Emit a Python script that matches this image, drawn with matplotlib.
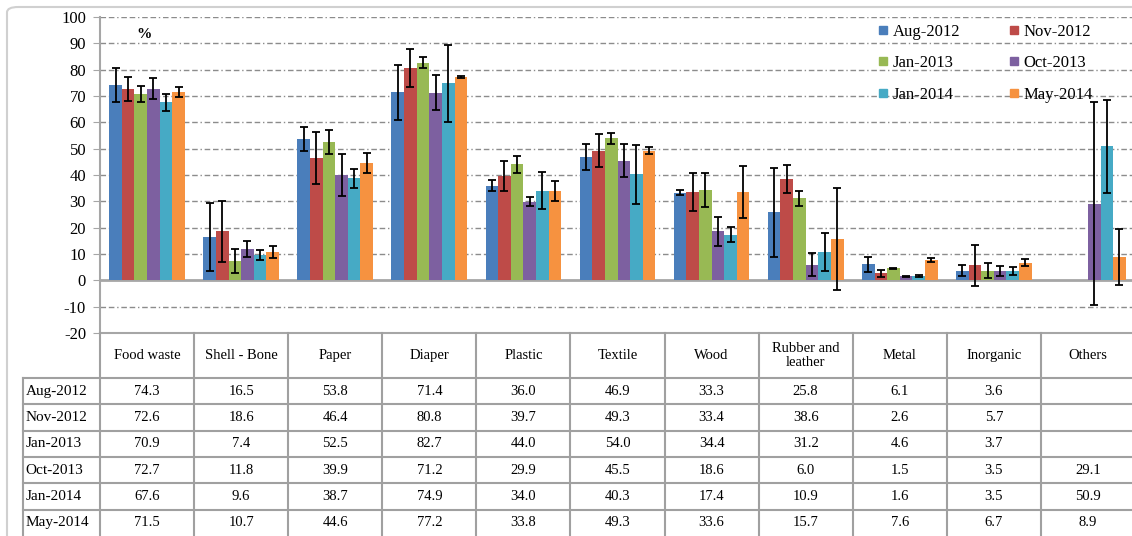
import numpy as np
import matplotlib
matplotlib.use("Agg")
import matplotlib.pyplot as plt
from matplotlib.lines import Line2D
from matplotlib.patches import FancyBboxPatch

plt.rcParams['font.family'] = ['Liberation Serif', 'DejaVu Serif']
plt.rcParams['axes.unicode_minus'] = False

categories = ["Food waste", "Shell - Bone", "Paper", "Diaper", "Plastic", "Textile",
              "Wood", "Rubber and\nleather", "Metal", "Inorganic", "Others"]
series_names = ["Aug-2012", "Nov-2012", "Jan-2013", "Oct-2013", "Jan-2014", "May-2014"]
nan = np.nan

aug_2012 = [74.3, 16.5, 53.8, 71.4, 36.0, 46.9, 33.3, 25.8, 6.1, 3.6, nan]
nov_2012 = [72.6, 18.6, 46.4, 80.8, 39.7, 49.3, 33.4, 38.6, 2.6, 5.7, nan]
jan_2013 = [70.9, 7.4, 52.5, 82.7, 44.0, 54.0, 34.4, 31.2, 4.6, 3.7, nan]
oct_2013 = [72.7, 11.8, 39.9, 71.2, 29.9, 45.5, 18.6, 6.0, 1.5, 3.5, 29.1]
jan_2014 = [67.6, 9.6, 38.7, 74.9, 34.0, 40.3, 17.4, 10.9, 1.6, 3.5, 50.9]
may_2014 = [71.5, 10.7, 44.6, 77.2, 33.8, 49.3, 33.6, 15.7, 7.6, 6.7, 8.9]

# standard deviations (error bar half-lengths)
aug_2012_sd = [6.5, 13.0, 4.5, 10.5, 2.0, 5.0, 1.0, 16.8, 2.8, 2.1, nan]
nov_2012_sd = [4.6, 11.7, 10.0, 7.2, 5.7, 6.3, 7.2, 5.3, 1.4, 7.7, nan]
jan_2013_sd = [3.0, 4.5, 4.5, 2.0, 3.2, 2.1, 6.4, 2.9, 0.2, 3.0, nan]
oct_2013_sd = [4.0, 3.0, 8.0, 6.7, 1.8, 6.1, 5.5, 4.2, 0.3, 1.9, 38.6]
jan_2014_sd = [3.3, 2.0, 3.7, 14.6, 7.1, 11.2, 2.9, 7.2, 0.3, 1.6, 17.6]
may_2014_sd = [1.9, 2.2, 3.8, 0.5, 3.8, 1.5, 10.0, 19.3, 0.7, 1.3, 10.6]

series = [aug_2012, nov_2012, jan_2013, oct_2013, jan_2014, may_2014]
errors = [aug_2012_sd, nov_2012_sd, jan_2013_sd, oct_2013_sd, jan_2014_sd, may_2014_sd]
colors = ["#4A7EBB", "#BE4B48", "#98B954", "#7D60A0", "#46AAC5", "#F69240"]

W, H = 1132, 536
fig = plt.figure(figsize=(W / 100, H / 100), dpi=100)

# outer chart frame
frame = FancyBboxPatch((7 / W, -0.05), 1.2, (H - 7) / H + 0.05,
                       boxstyle="round,pad=0,rounding_size=0.01",
                       transform=fig.transFigure, facecolor="none",
                       edgecolor="#D0D0D0", lw=1.5)
fig.patches.append(frame)

ax_left, ax_w = 100 / W, 1035 / W
ax = fig.add_axes([ax_left, 1 - 333 / H, ax_w, (333 - 17) / H])
ax.set_xlim(-0.5, len(categories) - 0.5)
ax.set_ylim(-20, 100)

n = len(series)
bw = 0.134
x = np.arange(len(categories))
for j, (vals, errs, c) in enumerate(zip(series, errors, colors)):
    pos = x + (j - (n - 1) / 2) * bw
    ax.bar(pos, vals, width=bw, color=c, zorder=3, linewidth=0)
    ax.errorbar(pos, vals, yerr=errs, fmt='none', ecolor='black',
                elinewidth=1.3, capsize=3, capthick=1.3, zorder=4)

ax.set_yticks(np.arange(-20, 101, 10))
ax.set_xticks([])
for t in np.arange(-10, 101, 10):
    if t == 0:
        continue
    ax.axhline(t, color="#8C8C8C", lw=1.0, dashes=[4, 2, 4, 2, 1, 2], zorder=1)
ax.axhline(0, color="#A6A6A6", lw=2.0, zorder=2)

for s in ["top", "right"]:
    ax.spines[s].set_visible(False)
for s in ["left", "bottom"]:
    ax.spines[s].set_color("#A6A6A6")
    ax.spines[s].set_linewidth(1.5)
ax.tick_params(axis='y', direction='out', length=5, color="#A6A6A6",
               labelsize=12, pad=5)
ax.tick_params(axis='x', length=0)
ax.set_facecolor("none")

ax.text(0.035, 0.965, "%", transform=ax.transAxes, fontsize=11,
        fontweight='bold', va='top', ha='left')

handles = [Line2D([], [], marker='s', linestyle='none', markersize=6,
                  color=c, label=name) for name, c in zip(series_names, colors)]
order = [0, 2, 4, 1, 3, 5]
leg = ax.legend([handles[i] for i in order], [series_names[i] for i in order],
                ncol=2, loc='upper left', bbox_to_anchor=(768 / 1035, 1.01),
                frameon=False, fontsize=12, handlelength=0.6, handletextpad=0.3,
                columnspacing=2.9, labelspacing=0.92, borderaxespad=0.2)
leg.set_zorder(5)

# data table below the chart
tax = fig.add_axes([ax_left, 0, ax_w, 203 / H])
tax.set_xlim(-0.5, len(categories) - 0.5)
tax.set_ylim(203, 0)
tax.axis('off')

header_h = 45
row_h = (203 - header_h) / len(series_names)
label_left = -0.5 - 77 / 94.1
gc = "#A0A0A0"

for k in range(len(categories) + 1):
    tax.plot([k - 0.5, k - 0.5], [0, 203], color=gc, lw=1.5, clip_on=False)
tax.plot([label_left, label_left], [header_h, 203], color=gc, lw=1.5, clip_on=False)
for r in range(len(series_names)):
    yl = header_h + r * row_h
    tax.plot([label_left, len(categories) - 0.5], [yl, yl], color=gc, lw=1.5,
             clip_on=False)

for i, cat in enumerate(categories):
    tax.text(i, header_h / 2, cat, ha='center', va='center', fontsize=10.5,
             linespacing=1.05)

for r, (name, vals) in enumerate(zip(series_names, series)):
    yc = header_h + (r + 0.5) * row_h
    tax.text(label_left + 0.03, yc, name, ha='left', va='center', fontsize=11,
             clip_on=False)
    for i, v in enumerate(vals):
        if not np.isnan(v):
            tax.text(i, yc, f"{v:.1f}", ha='center', va='center', fontsize=10.5)

fig.savefig("out.png", dpi=100)
